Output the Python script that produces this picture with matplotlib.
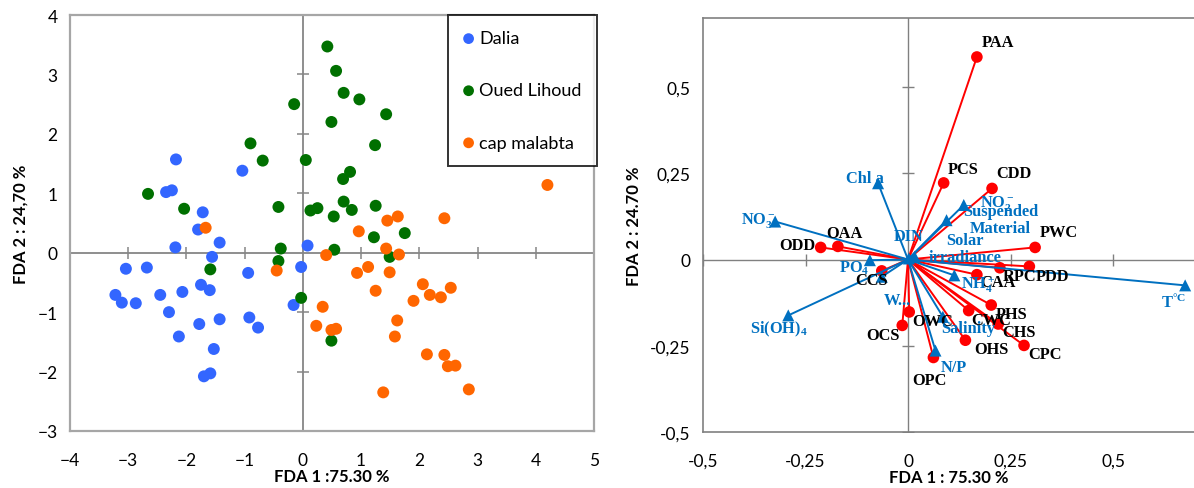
import matplotlib
matplotlib.use("Agg")
import matplotlib.pyplot as plt
import numpy as np

plt.rcParams['mathtext.fontset'] = 'custom'
plt.rcParams['mathtext.rm'] = 'Liberation Serif:bold'
plt.rcParams['mathtext.it'] = 'Liberation Serif:bold'
plt.rcParams['mathtext.bf'] = 'Liberation Serif:bold'

# ---------------- Left panel data (FDA scores) ----------------
dalia_x = [-2.18, -1.04, -2.35, -2.25, -1.72, -1.80, -1.43, -2.19, 0.08, -1.56, -3.04, -2.68, -0.94, -0.03,
           -1.75, -1.60, -3.22, -3.11, -2.87, -2.45, -2.07, -2.30, -0.16, -1.78, -1.43, -0.92, -0.77, -2.13,
           -1.53, -1.70, -1.59]
dalia_y = [1.57, 1.38, 1.02, 1.05, 0.68, 0.39, 0.17, 0.09, 0.12, -0.07, -0.27, -0.25, -0.34, -0.24,
           -0.54, -0.63, -0.71, -0.84, -0.85, -0.71, -0.66, -1.00, -0.88, -1.20, -1.12, -1.09, -1.26, -1.41,
           -1.62, -2.08, -2.03]

oued_x = [0.42, 0.57, 0.70, 0.97, -0.15, 0.49, 1.43, -0.90, 1.24, -0.69, 0.05, 0.81, 0.69, -2.66, -2.04,
          -0.42, 0.13, 0.25, 0.70, 0.84, 0.53, 1.25, 1.22, 1.75, -0.38, 0.54, 1.49, -0.42, -1.59, -0.03, 0.49]
oued_y = [3.47, 3.06, 2.69, 2.58, 2.50, 2.20, 2.33, 1.84, 1.81, 1.55, 1.56, 1.36, 1.24, 0.99, 0.74,
          0.77, 0.71, 0.75, 0.86, 0.72, 0.61, 0.79, 0.26, 0.33, 0.07, 0.05, -0.07, -0.14, -0.28, -0.76, -1.48]

cap_x = [-1.67, 0.96, 1.45, 1.63, 2.43, 4.20, 1.43, 0.40, 1.65, 1.12, 0.93, 1.49, 1.25, 2.06, 2.18, 2.37,
         2.54, 1.90, 0.34, 0.23, 0.49, 0.57, 1.62, 1.58, 2.13, 2.43, 2.49, 2.62, 2.85, 1.38, -0.45]
cap_y = [0.42, 0.36, 0.54, 0.61, 0.58, 1.14, 0.07, -0.04, -0.03, -0.24, -0.34, -0.33, -0.64, -0.53, -0.71,
         -0.75, -0.59, -0.81, -0.91, -1.23, -1.30, -1.28, -1.14, -1.41, -1.71, -1.72, -1.91, -1.90, -2.30,
         -2.35, -0.30]

group_names = ["Dalia", "Oued Lihoud", "cap malabta"]
group_colors = ["#3366FF", "#007000", "#FF6600"]

left_xticks = [-4, -3, -2, -1, 0, 1, 2, 3, 4, 5]
left_yticks = [-3, -2, -1, 0, 1, 2, 3, 4]

# ---------------- Right panel data (biplot) ----------------
site_names = ["ODD", "OAA", "CCS", "OWC", "OCS", "OPC", "PCS", "CDD", "PWC", "PDD", "RPC", "CAA",
              "PHS", "CWC", "CHS", "CPC", "OHS", "PAA"]
site_x = [-0.213, -0.171, -0.064, 0.003, -0.014, 0.062, 0.087, 0.205, 0.310, 0.296, 0.224, 0.168,
          0.203, 0.148, 0.220, 0.283, 0.140, 0.168]
site_y = [0.035, 0.038, -0.033, -0.152, -0.191, -0.284, 0.222, 0.206, 0.035, -0.020, -0.024, -0.044,
          -0.132, -0.148, -0.187, -0.249, -0.234, 0.587]

var_names = ["NO$_3^-$", "Chl a", "PO$_4$", "Si(OH)$_4$", "W...", "DIN", "Solar\nirradiance",
             "Suspended\nMaterial", "NO$_2^-$", "NH$_4^+$", "Salinity", "N/P", "T$^{°C}$"]
var_x = [-0.324, -0.073, -0.093, -0.292, -0.064, 0.002, 0.016, 0.094, 0.136, 0.113, 0.085, 0.067, 0.676]
var_y = [0.110, 0.221, -0.002, -0.162, -0.050, 0.003, 0.008, 0.114, 0.158, -0.046, -0.166, -0.264, -0.075]

right_xticks = [-0.5, -0.25, 0, 0.25, 0.5]
right_xticklabels = ["-0,5", "-0,25", "0", "0,25", "0,5"]
right_yticks = [-0.5, -0.25, 0, 0.25, 0.5]
right_yticklabels = ["-0,5", "-0,25", "0", "0,25", "0,5"]

# label offsets (points) – styling only
site_off = {"ODD": (-17, 2), "OAA": (5, 10), "CCS": (-7, -6.5), "OWC": (17, -6.5), "OCS": (-14, -7),
            "OPC": (-3, -16), "PCS": (14, 10), "CDD": (16, 11), "PWC": (17, 11), "PDD": (16.5, -7),
            "RPC": (14, -6), "CAA": (15, -5), "PHS": (14.5, -6.5), "CWC": (16.5, -7), "CHS": (15, -6),
            "CPC": (15, -6.5), "OHS": (18.5, -6), "PAA": (15, 11)}
var_off = [(-12, 1.5), (-9.5, 3.5), (-11, -5), (-7, -9.5), (11, -16.5), (-0.5, 16), (36.5, 6),
           (39, 0.5), (24, 1.5), (17, -6), (18, -8), (13, -11.5), (-8.5, -12)]

TICKFONT = "Lato"
fig = plt.figure(figsize=(11.94, 4.89), dpi=100)

# ================= Left panel =================
axL = fig.add_axes([70 / 1194, 1 - 432 / 489, 524 / 1194, 416 / 489])
for gx, gy, name, col in zip([dalia_x, oued_x, cap_x], [dalia_y, oued_y, cap_y], group_names, group_colors):
    axL.scatter(gx, gy, s=74, color=col, edgecolors='none', label=name, zorder=3)
axL.set_xlim(-4, 5)
axL.set_ylim(-3, 4)
axL.axhline(0, color="#868686", lw=1.3, zorder=1)
axL.axvline(0, color="#868686", lw=1.3, zorder=1)
axL.plot([t for t in left_xticks if t != 0], np.zeros(len(left_xticks) - 1), ls='none', marker='|',
         ms=9, mew=1.1, color="#868686", zorder=1)
axL.plot(np.zeros(len(left_yticks) - 1), [t for t in left_yticks if t != 0], ls='none', marker='_',
         ms=9, mew=1.1, color="#868686", zorder=1)
axL.set_xticks(left_xticks)
axL.set_yticks(left_yticks)
axL.tick_params(length=0, labelsize=12.5)
axL.tick_params(axis='x', pad=15)
axL.tick_params(axis='y', pad=9)
for lab in axL.get_xticklabels() + axL.get_yticklabels():
    lab.set_fontfamily(TICKFONT)
for sp in axL.spines.values():
    sp.set_color("#A6A6A6")
    sp.set_linewidth(1.6)
axL.set_xlabel("FDA 1 :75.30 %", fontsize=12, fontweight='bold', fontfamily=TICKFONT, labelpad=0)
axL.set_ylabel("FDA 2 : 24,70 %", fontsize=12, fontweight='bold', fontfamily=TICKFONT, labelpad=6)
leg = axL.legend(loc='upper right', bbox_to_anchor=(1.006, 1.0), frameon=True, fancybox=False,
                 edgecolor='black', prop={'family': TICKFONT, 'size': 13}, labelspacing=2.0,
                 handletextpad=0.3, borderpad=0.85, handlelength=0.6, markerscale=0.9, borderaxespad=0)
leg.get_frame().set_linewidth(1.4)

# ================= Right panel =================
axR = fig.add_axes([703 / 1194, 1 - 433 / 489, 492 / 1194, 414 / 489])
axR.set_xlim(-0.5, 0.7)
axR.set_ylim(-0.5, 0.7)
axR.axhline(0, color="#808080", lw=1.0, zorder=1)
axR.axvline(0, color="#808080", lw=1.0, zorder=1)
axR.plot([t for t in right_xticks if t != 0], np.zeros(len(right_xticks) - 1), ls='none', marker='|',
         ms=9, mew=1.0, color="#808080", zorder=1)
axR.plot(np.zeros(len(right_yticks) - 1), [t for t in right_yticks if t != 0], ls='none', marker='_',
         ms=9, mew=1.0, color="#808080", zorder=1)

RED = "#FF0000"
BLUE = "#0070C0"
for x, y in zip(site_x, site_y):
    axR.plot([0, x], [0, y], color=RED, lw=1.4, zorder=2)
axR.scatter(site_x, site_y, s=70, color=RED, edgecolors='none', zorder=3)
for x, y in zip(var_x, var_y):
    axR.plot([0, x], [0, y], color=BLUE, lw=1.4, zorder=4)
axR.scatter(var_x, var_y, s=75, marker='^', color=BLUE, edgecolors='none', zorder=5)

for name, x, y in zip(site_names, site_x, site_y):
    axR.annotate(name, (x, y), xytext=site_off[name], textcoords='offset points', ha='center',
                 va='center', fontsize=11.8, fontweight='bold', fontfamily='Liberation Serif',
                 color='black', zorder=6)
for name, x, y, off in zip(var_names, var_x, var_y, var_off):
    axR.annotate(name, (x, y), xytext=off, textcoords='offset points', ha='center', va='center',
                 fontsize=11.8, fontweight='bold', fontfamily='Liberation Serif', color=BLUE,
                 linespacing=1.1, zorder=6)

axR.set_xticks(right_xticks)
axR.set_xticklabels(right_xticklabels)
axR.set_yticks(right_yticks)
axR.set_yticklabels(right_yticklabels)
axR.tick_params(length=0, labelsize=12.5)
axR.tick_params(axis='x', pad=15)
axR.tick_params(axis='y', pad=9)
for lab in axR.get_xticklabels() + axR.get_yticklabels():
    lab.set_fontfamily(TICKFONT)
for sp in axR.spines.values():
    sp.set_color("#808080")
    sp.set_linewidth(1.2)
axR.spines['right'].set_visible(False)
axR.set_xlabel("FDA 1 : 75.30 %", fontsize=12, fontweight='bold', fontfamily=TICKFONT, labelpad=0)
axR.set_ylabel("FDA 2 : 24.70 %", fontsize=12, fontweight='bold', fontfamily=TICKFONT, labelpad=6)

fig.savefig("out.png", dpi=100)
